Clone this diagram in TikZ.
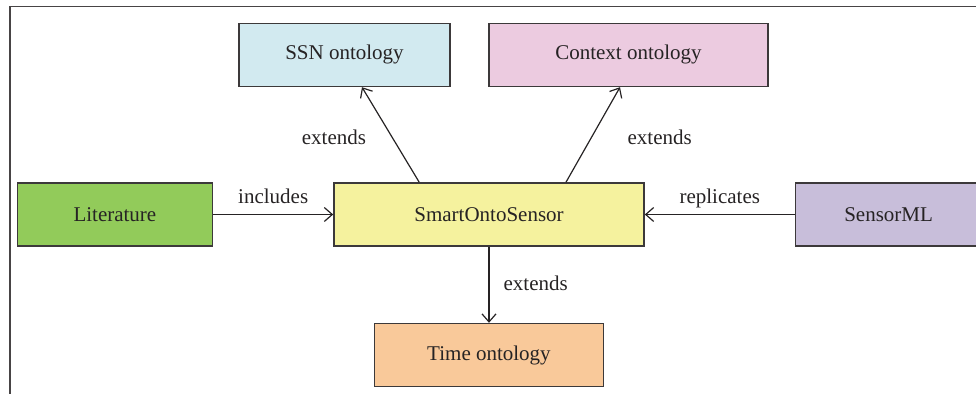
\documentclass[tikz,border=0pt]{standalone}
\usepackage{fontspec}
\setmainfont{Liberation Serif}
\usetikzlibrary{arrows.meta, positioning}

\definecolor{ssnblue}{HTML}{D2EAF0}
\definecolor{ctxpink}{HTML}{ECCBE0}
\definecolor{litgreen}{HTML}{92CB5A}
\definecolor{smartyellow}{HTML}{F5F29E}
\definecolor{mlpurple}{HTML}{C8BEDA}
\definecolor{timeorange}{HTML}{F9C99A}
\definecolor{ink}{HTML}{262324}

\begin{document}
\begin{tikzpicture}[
        font=\fontsize{10.5}{12}\selectfont,
        every node/.style={text=ink},
        box/.style={draw=ink!90, line width=0.8pt, minimum height=31.5pt, inner sep=0pt},
        arrow/.style={->, >={Straight Barb[length=4pt, width=7pt]}, draw=ink, line width=0.6pt},
        lbl/.style={text height=1.5ex, text depth=.3ex, inner sep=1pt},
        frame/.style={draw=ink!85, line width=0.8pt}
    ]

    \useasboundingbox (-244.5pt,-89.75pt) rectangle (243.5pt,107.25pt);

    \node[box, fill=smartyellow, minimum width=155pt] (smart) at (0,0) {SmartOntoSensor};
    \node[box, fill=litgreen, minimum width=97.5pt, left=60pt of smart] (lit) {Literature};
    \node[box, fill=mlpurple, minimum width=93pt, right=75pt of smart] (ml) {SensorML};
    \node[box, fill=timeorange, minimum width=114.5pt, below=38pt of smart] (time) {Time ontology};
    \node[box, fill=ssnblue, minimum width=105.5pt, above=47.5pt of smart, xshift=-72.25pt] (ssn) {SSN ontology};
    \node[box, fill=ctxpink, minimum width=139.5pt, above=47.5pt of smart, xshift=69.75pt] (ctx) {Context ontology};

    % outer frame (top and left only)
    \draw[frame] (-239.5pt,-89.75pt) |- (243.5pt,104pt);

    \draw[arrow] ([xshift=43pt]smart.north west) -- node[lbl, midway, left=11pt, yshift=-2pt] {extends} ([xshift=8.75pt]ssn.south);
    \draw[arrow] ([xshift=38.5pt]smart.north) -- node[lbl, midway, right=16pt, yshift=-2pt] {extends} ([xshift=-4.25pt]ctx.south);
    \draw[arrow] (lit.east) -- node[lbl, midway, above=3pt] {includes} (smart.west);
    \draw[arrow] (ml.west) -- node[lbl, midway, above=3pt] {replicates} (smart.east);
    \draw[arrow] (smart.south) -- node[lbl, midway, right=6pt] {extends} (smart.south |- time.north);
\end{tikzpicture}
\end{document}
